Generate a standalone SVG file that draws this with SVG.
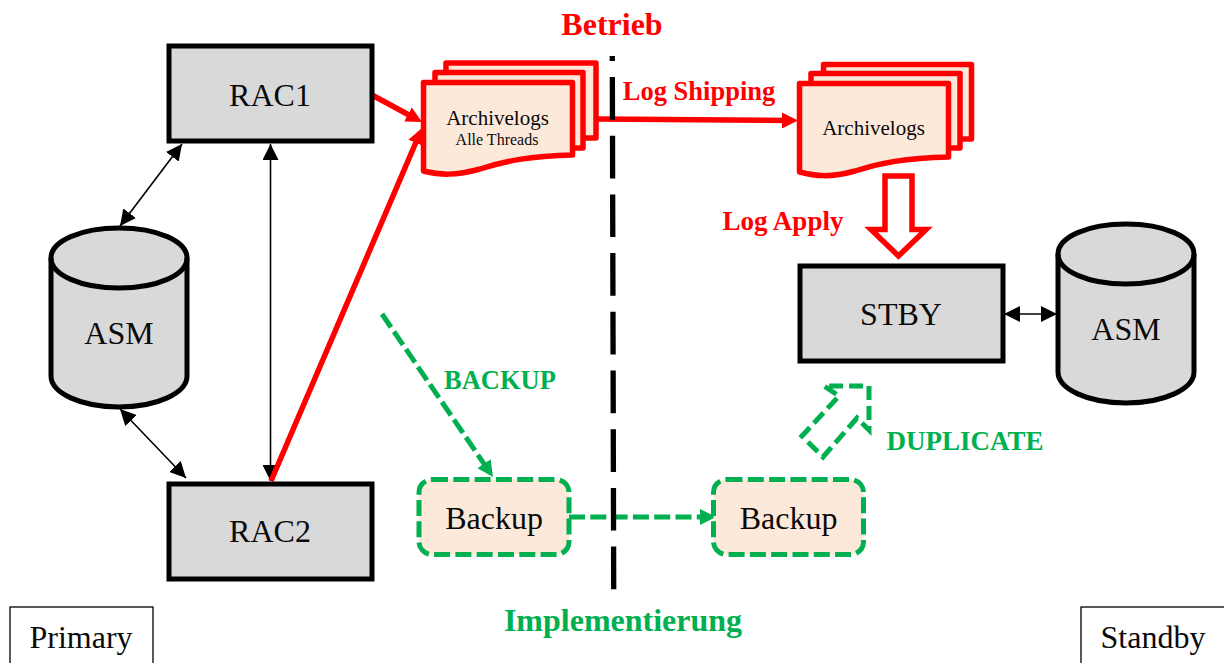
<svg xmlns="http://www.w3.org/2000/svg" width="1224" height="663" viewBox="0 0 1224 663">
<style>
text{font-family:"Liberation Serif","Times New Roman",serif;text-anchor:middle;fill:#0a0a0a}
.n{font-size:32px}
.box{fill:#d9d9d9;stroke:#000;stroke-width:5;stroke-linejoin:miter}
.cyl{fill:#d9d9d9;stroke:#000;stroke-width:5}
.doc{fill:#fce9da;stroke:#f00;stroke-width:5.500;stroke-linejoin:round}
.bk{fill:#fce9da;stroke:#00b050;stroke-width:5;stroke-dasharray:16 5.300}
.r{font-weight:bold;fill:#f00}
.g{font-weight:bold;fill:#00b050}
.k{stroke:#000;stroke-width:1.600;fill:none;marker-start:url(#ka);marker-end:url(#ka)}
.red{stroke:#f00;stroke-width:5.500;fill:none}
.gd{stroke:#00b050;stroke-width:5;fill:none;stroke-dasharray:16 5.300}
</style>
<defs>
<marker id="ka" viewBox="0 0 10 10" refX="10" refY="5" markerWidth="16" markerHeight="16" markerUnits="userSpaceOnUse" orient="auto-start-reverse"><path d="M0 0L10 5L0 10Z" fill="#000"/></marker>
<marker id="ra" viewBox="0 0 10 10" refX="6" refY="5" markerWidth="16" markerHeight="16" markerUnits="userSpaceOnUse" orient="auto"><path d="M0 0L10 5L0 10Z" fill="#f00"/></marker>
<marker id="ga" viewBox="0 0 10 10" refX="6" refY="5" markerWidth="16" markerHeight="16" markerUnits="userSpaceOnUse" orient="auto"><path d="M0 0L10 5L0 10Z" fill="#00b050"/></marker>
</defs>
<g id="connectors">
<line class="k" x1="120" y1="226" x2="182" y2="144"/>
<line class="k" x1="270.500" y1="481" x2="270.500" y2="144"/>
<line class="k" x1="120" y1="409" x2="186" y2="478"/>
<line class="k" x1="1004" y1="314" x2="1057" y2="314"/>
<line class="red" x1="372" y1="95" x2="416.400" y2="119" marker-end="url(#ra)"/>
<line class="red" x1="271" y1="481" x2="419.500" y2="134" marker-end="url(#ra)"/>
<line class="red" x1="597" y1="119" x2="791.600" y2="120.500" marker-end="url(#ra)"/>
<line class="gd" x1="382" y1="314" x2="489.400" y2="471.700" marker-end="url(#ga)"/>
<line class="gd" x1="569" y1="517" x2="709.600" y2="517" marker-end="url(#ga)"/>
<line x1="612.300" y1="56" x2="613.700" y2="590" stroke="#000" stroke-width="5.300" stroke-dasharray="42.700 16" stroke-dashoffset="37.700"/>
</g>
<g id="rac1"><rect class="box" x="169" y="46" width="203" height="95"/><text class="n" x="270" y="106">RAC1</text></g>
<g id="rac2"><rect class="box" x="169" y="484" width="203" height="95"/><text class="n" x="270" y="542">RAC2</text></g>
<g id="stby"><rect class="box" x="800" y="266" width="203" height="95"/><text class="n" x="901" y="325">STBY</text></g>
<g id="asm1"><path class="cyl" d="M51 258C51 241 81 228 119 228S187 241 187 258V376C187 393 157 407 119 407S51 393 51 376Z"/><path class="cyl" style="fill:none" d="M51 258C51 275 81 288 119 288S187 275 187 258"/><text class="n" x="119" y="344">ASM</text></g>
<g id="asm2"><path class="cyl" d="M1058 254C1058 237 1088 224 1126 224S1194 237 1194 254V372C1194 389 1164 403 1126 403S1058 389 1058 372Z"/><path class="cyl" style="fill:none" d="M1058 254C1058 271 1088 284 1126 284S1194 271 1194 254"/><text class="n" x="1126" y="340">ASM</text></g>
<g id="archivelogs1">
<path class="doc" d="M446 63H596V138H446Z"/>
<path class="doc" d="M435 72.500H583V148H435Z"/>
<path class="doc" d="M423.500 82.500H572.500V155C530 156 505 161 480 169C455 176 440 175 423.500 171Z"/>
<text x="497.500" y="125" font-size="21">Archivelogs</text><text x="497" y="145" font-size="16">Alle Threads</text>
</g>
<g id="archivelogs2">
<path class="doc" d="M823.500 64.500H971.500V139H823.500Z"/>
<path class="doc" d="M811 73.500H960V148H811Z"/>
<path class="doc" d="M799.500 83.500H948.500V157C905 158 880 163 855 171C830 178 815 176 799.500 172Z"/>
<text x="873.500" y="135" font-size="21">Archivelogs</text>
</g>
<g id="log-apply"><path d="M885 176H912V229.500H926L898.500 256L871 229.500H885Z" fill="#fff" stroke="#f00" stroke-width="5.500"/></g>
<g id="duplicate"><path class="gd" style="stroke-dasharray:14 6" d="M869 386V430L857 418L823 457L802 436L839 396L824 386Z"/></g>
<g id="backup1"><rect class="bk" x="419" y="479.500" width="150" height="75" rx="13"/><text class="n" x="494" y="529">Backup</text></g>
<g id="backup2"><rect class="bk" x="713.500" y="479.500" width="150" height="75" rx="13"/><text class="n" x="788.500" y="529">Backup</text></g>
<text class="r" x="612" y="35" font-size="32">Betrieb</text>
<text class="r" x="699" y="100" font-size="26.500">Log Shipping</text>
<text class="r" x="783" y="230" font-size="27">Log Apply</text>
<text class="g" x="500" y="389" font-size="26.500">BACKUP</text>
<text class="g" x="965" y="450" font-size="27">DUPLICATE</text>
<text class="g" x="623" y="631" font-size="32">Implementierung</text>
<g id="primary"><rect x="10" y="607" width="143" height="60" fill="#fff" stroke="#000" stroke-width="1.300"/><text class="n" x="81" y="648">Primary</text></g>
<g id="standby"><rect x="1081" y="607" width="150" height="60" fill="#fff" stroke="#000" stroke-width="1.300"/><text class="n" x="1153" y="648">Standby</text></g>
</svg>
